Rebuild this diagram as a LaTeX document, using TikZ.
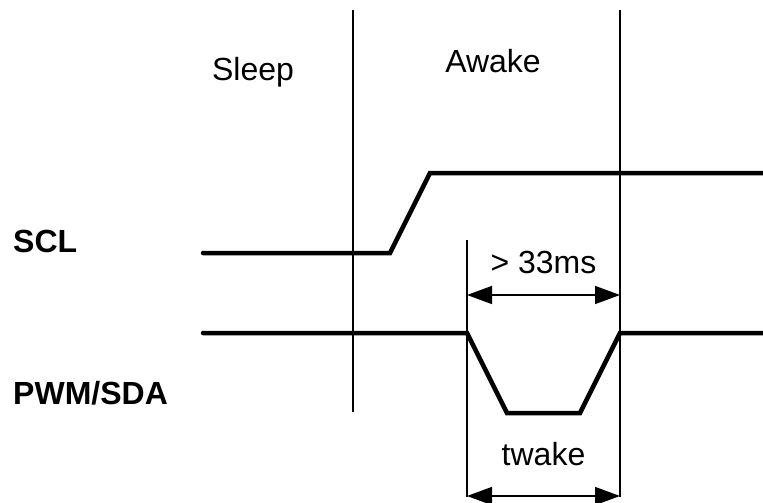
\documentclass[tikz,border=0pt]{standalone}
\usepackage{fontspec}
\setmainfont{Liberation Sans}
\usetikzlibrary{arrows.meta}

\begin{document}
\begin{tikzpicture}[x=1pt,y=-1pt,every node/.style={font=\fontsize{32}{38}\selectfont,inner sep=0pt},sig/.style={font=\fontsize{32}{38}\selectfont\bfseries,anchor=base west},phase/.style={anchor=base},guide/.style={line width=1.5pt},wave/.style={line width=4.5pt,line cap=round,line join=miter},dim/.style={{Triangle[length=25pt,width=18pt]}-{Triangle[length=25pt,width=18pt]},line width=1.5pt}]
\useasboundingbox (0,0) rectangle (763,503);
% phase boundaries
\coordinate (sleepT) at (353,10); \coordinate (sleepB) at (353,412);
\coordinate (awakeT) at (620,10); \coordinate (awakeB) at (620,497);
\coordinate (lowT) at (467,240); \coordinate (lowB) at (467,497);
\draw[guide] (sleepT)--(sleepB); \draw[guide] (awakeT)--(awakeB); \draw[guide] (lowT)--(lowB);
% labels
\node[phase] (sleep) at (253,81) {Sleep};
\node[phase] (awake) at (493,73) {Awake};
\node[sig] (scl) at (13,252) {SCL};
\node[sig] (sda) at (13,404) {PWM/SDA};
% waveforms
\draw[wave] (203,253)--(390,253)--(430,173)--(763,173);
\draw[wave] (203,333)--(467,333)--(507,413)--(580,413)--(620,333)--(763,333);
% timing
\coordinate (minL) at (lowT|-0,295); \coordinate (minR) at (awakeT|-0,295);
\draw[dim] (minL)--(minR) node[midway,above=20pt] (min) {> 33ms};
\coordinate (wakeL) at (lowT|-0,496); \coordinate (wakeR) at (awakeT|-0,496);
\draw[dim] (wakeL)--(wakeR) node[midway,above=29pt] (twake) {twake};
\end{tikzpicture}
\end{document}
